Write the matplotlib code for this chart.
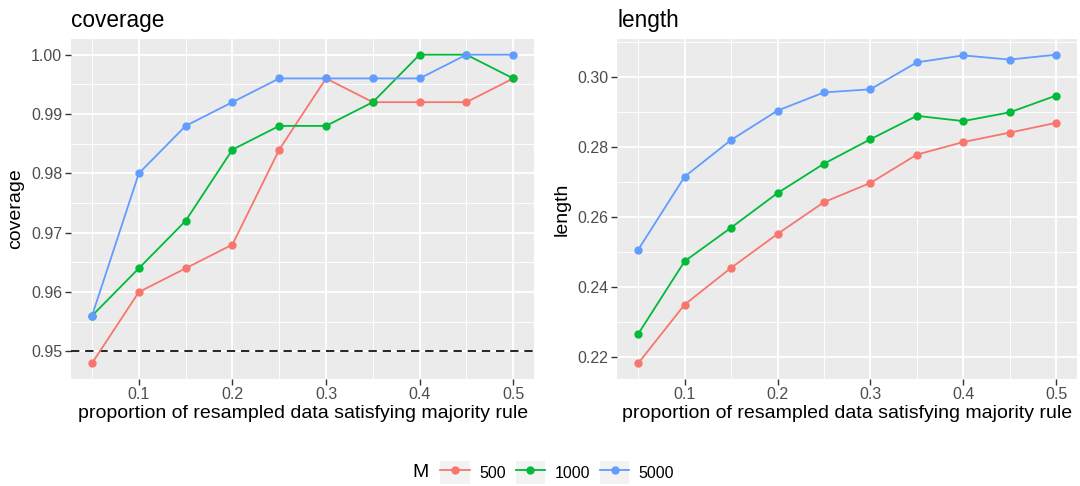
import numpy as np
import matplotlib
matplotlib.use("Agg")
import matplotlib.pyplot as plt
from matplotlib.patches import Rectangle
from matplotlib.legend_handler import HandlerLine2D
from matplotlib.lines import Line2D
from matplotlib.ticker import MultipleLocator

plt.rcParams["font.family"] = ["Liberation Sans", "DejaVu Sans"]

# proportion of resampled data satisfying majority rule
prop = [0.05, 0.10, 0.15, 0.20, 0.25, 0.30, 0.35, 0.40, 0.45, 0.50]
m_levels = ["500", "1000", "5000"]
colors = ["#F8766D", "#00BA38", "#619CFF"]

coverage_500 = [0.948, 0.960, 0.964, 0.968, 0.984, 0.996, 0.992, 0.992, 0.992, 0.996]
coverage_1000 = [0.956, 0.964, 0.972, 0.984, 0.988, 0.988, 0.992, 1.000, 1.000, 0.996]
coverage_5000 = [0.956, 0.980, 0.988, 0.992, 0.996, 0.996, 0.996, 0.996, 1.000, 1.000]

length_500 = [0.2181, 0.2349, 0.2454, 0.2551, 0.2642, 0.2697, 0.2778, 0.2814, 0.2841, 0.2869]
length_1000 = [0.2265, 0.2473, 0.2569, 0.2668, 0.2752, 0.2822, 0.2889, 0.2874, 0.2899, 0.2947]
length_5000 = [0.2506, 0.2715, 0.2820, 0.2904, 0.2956, 0.2965, 0.3042, 0.3062, 0.3050, 0.3064]

nominal = 0.95

TICK_COL = "#4D4D4D"
PANEL_BG = "#EBEBEB"


def expand(lo, hi, frac=0.05):
    pad = (hi - lo) * frac
    return lo - pad, hi + pad


def style_panel(ax, title, ylabel, ymajor, yfmt):
    ax.set_facecolor(PANEL_BG)
    for side in ax.spines.values():
        side.set_visible(False)
    ax.xaxis.set_major_locator(MultipleLocator(0.1))
    ax.xaxis.set_minor_locator(MultipleLocator(0.05))
    ax.yaxis.set_major_locator(MultipleLocator(ymajor))
    ax.yaxis.set_minor_locator(MultipleLocator(ymajor / 2))
    ax.yaxis.set_major_formatter(yfmt)
    ax.xaxis.set_major_formatter(lambda v, p: f"{v:g}")
    ax.grid(which="major", color="white", linewidth=1.3)
    ax.grid(which="minor", color="white", linewidth=0.65)
    ax.set_axisbelow(True)
    ax.tick_params(which="major", length=4, width=1.0, color="#333333",
                   labelsize=11.5, labelcolor=TICK_COL, pad=2.2)
    ax.tick_params(which="minor", length=0)
    ax.set_title(title, loc="left", fontsize=16.3, pad=9)
    ax.set_ylabel(ylabel, fontsize=14, labelpad=5)
    ax.set_xlabel("proportion of resampled data satisfying majority rule",
                  fontsize=14, labelpad=2)
    ax.set_xlim(*expand(min(prop), max(prop)))


fig = plt.figure(figsize=(10.8, 4.86), dpi=100)
ax1 = fig.add_axes([0.0657, 0.2208, 0.429, 0.6984])
ax2 = fig.add_axes([0.5716, 0.2208, 0.4256, 0.6984])

ax1.axhline(nominal, color="black", linestyle=(0, (5, 3.5)), linewidth=1.2, zorder=2)
for vals, c in zip([coverage_500, coverage_1000, coverage_5000], colors):
    ax1.plot(prop, vals, color=c, linewidth=1.3, marker="o", markersize=5, zorder=3)
for vals, c in zip([length_500, length_1000, length_5000], colors):
    ax2.plot(prop, vals, color=c, linewidth=1.3, marker="o", markersize=5, zorder=3)

cov_all = coverage_500 + coverage_1000 + coverage_5000 + [nominal]
len_all = length_500 + length_1000 + length_5000

style_panel(ax1, "coverage", "coverage", 0.01, lambda v, p: f"{v:.2f}")
ax1.set_ylim(*expand(min(cov_all), max(cov_all)))
style_panel(ax2, "length", "length", 0.02, lambda v, p: f"{v:.2f}")
ax2.set_ylim(*expand(min(len_all), max(len_all)))


class KeyHandler(HandlerLine2D):
    # grey key background like ggplot legend keys
    def create_artists(self, legend, orig_handle, xdescent, ydescent,
                       width, height, fontsize, trans):
        arts = super().create_artists(legend, orig_handle, xdescent, ydescent,
                                      width, height, fontsize, trans)
        bg = Rectangle((-xdescent, -ydescent), width, height,
                       facecolor="#F2F2F2", edgecolor="none", transform=trans)
        return [bg] + list(arts)


handles = [Line2D([], [], color=c, linewidth=1.3, marker="o", markersize=5)
           for c in colors]
leg = fig.legend(handles, m_levels, loc="center", bbox_to_anchor=(0.516, 0.027),
                 ncol=3, frameon=False, fontsize=11.5, handlelength=1.85,
                 handleheight=1.85, handletextpad=0.6, columnspacing=0.6,
                 borderpad=0.2, handler_map={Line2D: KeyHandler(numpoints=1)})
fig.text(0.3815, 0.027, "M", fontsize=14, ha="left", va="center")

fig.savefig("out.png", dpi=100)
